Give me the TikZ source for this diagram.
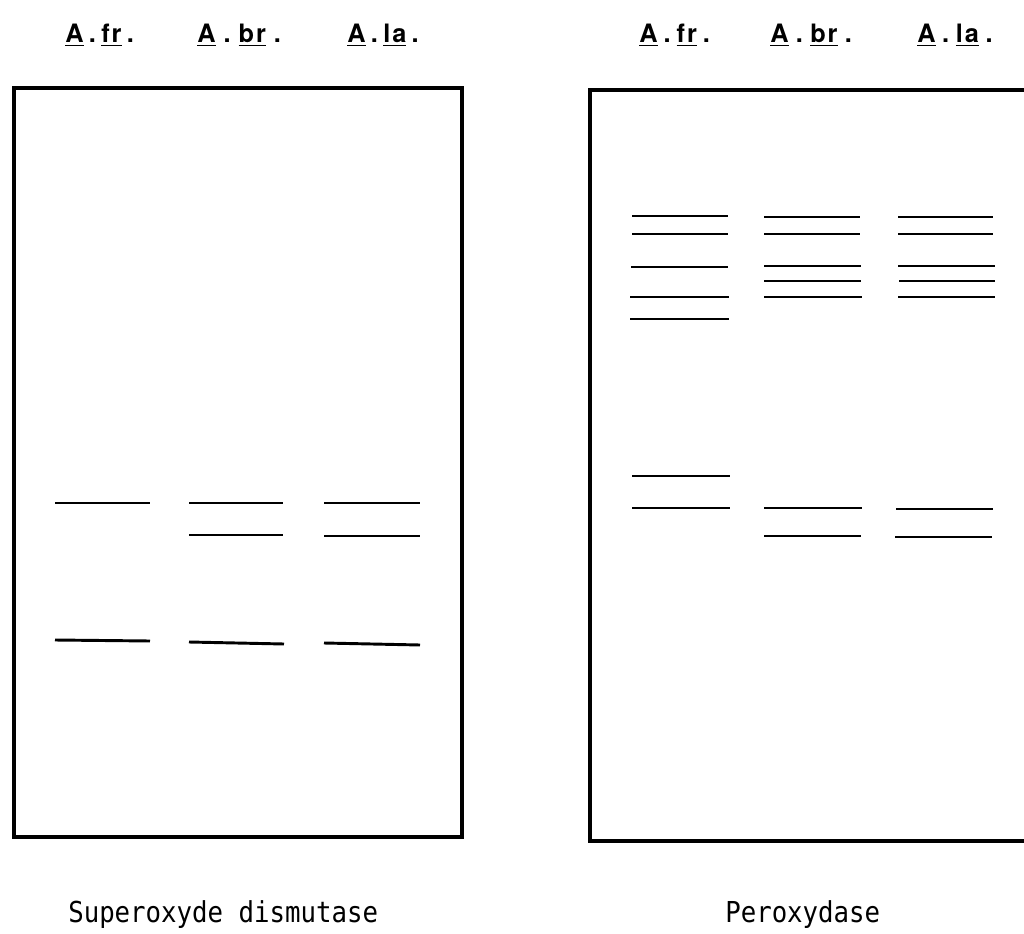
\documentclass[tikz,border=0pt]{standalone}
\usepackage{fontspec}
\newfontfamily\hdrfont{TeX Gyre Heros}
\newfontfamily\capfont{DejaVu Sans Mono}
\newcommand\lanelbl[3]{\underline{A}\hspace{#1}.\hspace{#1}\underline{#2\hspace{1.5pt}#3}\hspace{#1}.}
\begin{document}
\begin{tikzpicture}[x=0.75pt,y=-0.75pt,
  gelbox/.style={line width=3pt, line join=miter},
  band/.style={line width=2.2pt},
  hdr/.style={anchor=base west, inner sep=0pt, font=\hdrfont\bfseries\fontsize{19}{21}\selectfont},
  caption/.style={anchor=base west, inner sep=0pt, font=\capfont\fontsize{19.3}{22}\selectfont}]
\useasboundingbox (0,0) rectangle (1024,934);
\fill[white] (0,0) rectangle (1024,934);
% gel outlines
\draw[gelbox] (14,88) rectangle (462,837);
\draw[gelbox] (590,90) rectangle (1034,841);
% headers left
\node[hdr] (l1) at (65,43) {\lanelbl{4pt}{f}{r}};
\node[hdr] (l2) at (197,43) {\lanelbl{6pt}{b}{r}};
\node[hdr] (l3) at (347,43) {\lanelbl{4pt}{l}{a}};
% headers right
\node[hdr] (r1) at (639,43) {\lanelbl{4.5pt}{f}{r}};
\node[hdr] (r2) at (770,43) {\lanelbl{5.5pt}{b}{r}};
\node[hdr] (r3) at (917,43) {\lanelbl{5pt}{l}{a}};
% left bands
\draw[band] (55,503) -- (150,503);
\draw[band] (55,640) -- (150,641);
\draw[band] (189,503) -- (283,503);
\draw[band] (189,535) -- (283,535);
\draw[band] (189,642) -- (284,644);
\draw[band] (324,503) -- (420,503);
\draw[band] (324,536) -- (420,536);
\draw[band] (324,643) -- (420,645);
% right bands lane 1
\draw[band] (632,216) -- (728,216);
\draw[band] (632,234) -- (728,234);
\draw[band] (631,267) -- (728,267);
\draw[band] (630,297) -- (729,297);
\draw[band] (630,319) -- (729,319);
\draw[band] (632,476) -- (730,476);
\draw[band] (632,508) -- (730,508);
% right bands lane 2
\draw[band] (764,217) -- (860,217);
\draw[band] (764,234) -- (860,234);
\draw[band] (764,266) -- (861,266);
\draw[band] (764,281) -- (861,281);
\draw[band] (764,297) -- (862,297);
\draw[band] (764,508) -- (862,508);
\draw[band] (764,536) -- (861,536);
% right bands lane 3
\draw[band] (898,217) -- (993,217);
\draw[band] (898,234) -- (993,234);
\draw[band] (898,266) -- (995,266);
\draw[band] (899,281) -- (995,281);
\draw[band] (898,297) -- (995,297);
\draw[band] (896,509) -- (993,509);
\draw[band] (895,537) -- (992,537);
% captions
\node[caption] (c1) at (68,922) {\scalebox{1}[1.12]{Superoxyde dismutase}};
\node[caption] (c2) at (725,922) {\scalebox{1}[1.12]{Peroxydase}};
\end{tikzpicture}
\end{document}
